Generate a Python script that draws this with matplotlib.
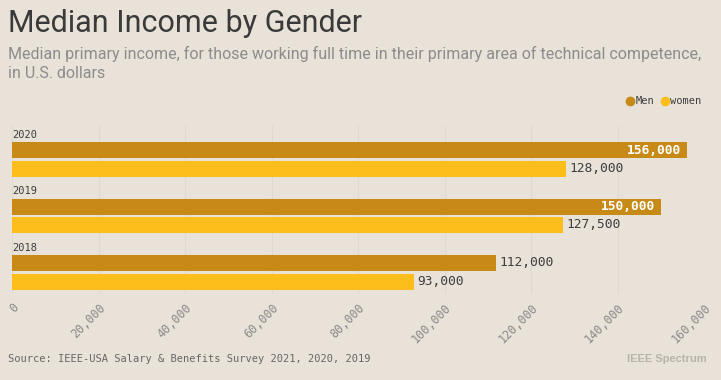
import matplotlib
matplotlib.use("Agg")
import matplotlib.pyplot as plt
from matplotlib.lines import Line2D

years = ["2020", "2019", "2018"]
men = [156000, 150000, 112000]
women = [128000, 127500, 93000]
xticks = [0, 20000, 40000, 60000, 80000, 100000, 120000, 140000, 160000]

BG = "#e8e2d8"
MEN_C = "#c78a17"
WOMEN_C = "#fdbe1b"
GRID_C = "#e0d9ce"
TXT = "#3d3d3d"
MONO = "DejaVu Sans Mono"

W, H = 721, 380
fig = plt.figure(figsize=(W / 100, H / 100), dpi=100, facecolor=BG)

def fx(px):
    return px / W

def fy(py):
    return 1 - py / H

ax_left, ax_right, ax_top, ax_bot = 12, 704, 126, 294
ax = fig.add_axes([fx(ax_left), fy(ax_bot), fx(ax_right - ax_left), (ax_bot - ax_top) / H])
ax.set_facecolor(BG)
ax.set_xlim(0, 160000)
ax.set_ylim(ax_bot - 135, ax_top - 135)  # inverted, pixel-like units

spacing = 56.5
bh = 16
for g, (y, m, w) in enumerate(zip(years, men, women)):
    base = g * spacing
    ym = base + 15
    yw = base + 33.5
    ax.barh(ym, m, height=bh, color=MEN_C, zorder=3)
    ax.barh(yw, w, height=bh, color=WOMEN_C, zorder=3)
    ax.text(0, base, y, fontsize=7.5, family=MONO, color=TXT, va="center", ha="left", zorder=4)
    if m > 140000:
        ax.text(m - 1200, ym, f"{m:,}", fontsize=9.3, family=MONO, color="white",
                fontweight="bold", va="center", ha="right", zorder=4)
    else:
        ax.text(m + 800, ym, f"{m:,}", fontsize=9.3, family=MONO, color=TXT,
                va="center", ha="left", zorder=4)
    ax.text(w + 800, yw, f"{w:,}", fontsize=9.3, family=MONO, color=TXT,
            va="center", ha="left", zorder=4)

for t in xticks:
    ax.axvline(t, color=GRID_C, lw=0.8, zorder=1)

ax.set_xticks(xticks)
ax.set_xticklabels([f"{t:,}" for t in xticks], rotation=45, ha="right", va="top",
                   rotation_mode="anchor", family=MONO, fontsize=8.5, color="#8a8a8a")
ax.tick_params(axis="x", length=0, pad=5)
ax.set_yticks([])
for s in ax.spines.values():
    s.set_visible(False)

# Titles
fig.text(fx(8), fy(23), "Median Income by Gender", fontsize=22, family="Roboto",
         color="#3a3a3a", va="center", ha="left")
fig.text(fx(8), fy(54), "Median primary income, for those working full time in their primary area of technical competence,",
         fontsize=11.5, family="Roboto", color="#8c8c8c", va="center", ha="left")
fig.text(fx(8), fy(73), "in U.S. dollars",
         fontsize=11.5, family="Roboto", color="#8c8c8c", va="center", ha="left")

# Legend
fig.add_artist(Line2D([fx(630)], [fy(101)], marker="o", markersize=6, color=MEN_C,
                      transform=fig.transFigure, lw=0))
fig.text(fx(636), fy(101), "Men", fontsize=7.5, family=MONO, color=TXT, va="center", ha="left")
fig.add_artist(Line2D([fx(665)], [fy(101)], marker="o", markersize=6, color=WOMEN_C,
                      transform=fig.transFigure, lw=0))
fig.text(fx(670), fy(101), "women", fontsize=7.5, family=MONO, color=TXT, va="center", ha="left")

# Footer
fig.text(fx(8), fy(359), "Source: IEEE-USA Salary & Benefits Survey 2021, 2020, 2019",
         fontsize=7.5, family=MONO, color="#666666", va="center", ha="left")
fig.text(fx(707), fy(359), "IEEE Spectrum", fontsize=8, family="Liberation Sans",
         fontweight="bold", color="#b8b3ab", va="center", ha="right")

fig.savefig("out.png", dpi=100, facecolor=BG)
